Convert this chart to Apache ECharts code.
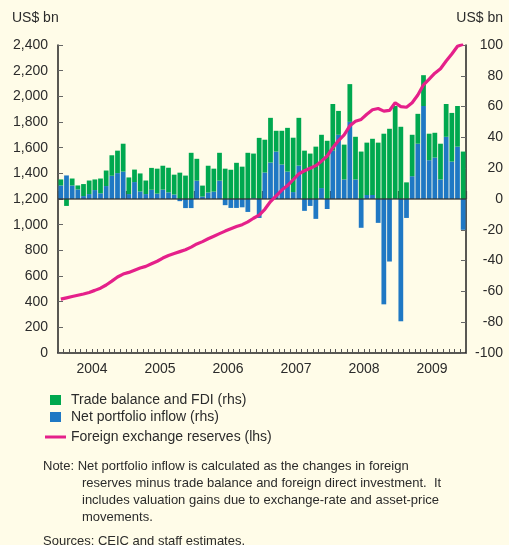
<!DOCTYPE html>
<html>
<head>
<meta charset="utf-8">
<script src="https://cdn.jsdelivr.net/npm/echarts@6/dist/echarts.min.js"></script>
<style>
html,body{margin:0;padding:0;background:#FFFCE8;}
#chart{width:509px;height:545px;}
</style>
</head>
<body>
<div id="chart"></div>
<script>
// ---- data ----
var years = ['2004', '2005', '2006', '2007', '2008', '2009'];
var leftTicks = [0, 200, 400, 600, 800, 1000, 1200, 1400, 1600, 1800, 2000, 2200, 2400];
var rightTicks = [-100, -80, -60, -40, -20, 0, 20, 40, 60, 80, 100];

// Net portfolio inflow (rhs, US$ bn), monthly Jan 2004 - Dec 2009
var portfolio = [
  8.8, 15.3, 8.8, 6.2, 1.9, 3.2, 5.8, 3.7, 8.4, 15.1, 16.8, 17.8,
  3.2, 11.0, 4.9, 3.2, 6.0, 3.5, 6.1, 4.3, 2.9, -1.4, -5.9, -5.9,
  11.9, 1.6, 4.2, 4.8, 11.9, -4.0, -5.8, -5.8, -5.4, -8.4, 0.5, -12.3,
  17.2, 23.7, 30.8, 22.4, 17.8, 4.5, 21.7, -7.7, -4.5, -12.9, 7.1, -6.5,
  31.4, 41.7, 12.7, 50.1, 12.7, -18.7, 2.6, 2.6, -15.5, -68.4, -40.6, 0,
  -79.4, -12.3, 14.8, 35.9, 60.4, 25.2, 26.9, 12.7, 40.4, 24.3, 34.0, -20.0
];
// Trade balance and FDI (rhs, US$ bn)
var tradeFdi = [
  3.9, -4.5, 4.5, 2.6, 7.8, 8.8, 6.9, 9.6, 10.1, 13.3, 14.6, 18.1,
  10.8, 8.1, 11.7, 8.8, 14.2, 16.2, 15.5, 16.0, 12.9, 17.1, 15.2, 30.0,
  14.2, 7.1, 17.4, 14.9, 18.1, 19.7, 19.0, 23.5, 21.0, 30.0, 29.0, 39.7,
  21.3, 29.0, 13.5, 21.9, 28.4, 35.3, 31.0, 31.4, 29.5, 34.0, 34.6, 37.8,
  30.3, 15.5, 22.6, 24.5, 27.7, 30.8, 34.0, 36.5, 36.6, 42.4, 45.6, 60.4,
  46.9, 10.8, 26.9, 19.4, 20.0, 17.2, 16.1, 23.2, 21.3, 31.6, 26.4, 30.8
];
// Foreign exchange reserves (lhs, US$ bn)
var reserves = [
  420, 430, 440, 450, 460, 472, 488, 505, 530, 560, 592, 615,
  628, 645, 662, 675, 695, 715, 740, 760, 775, 790, 805, 825,
  850, 868, 890, 910, 930, 950, 968, 985, 1000, 1022, 1050, 1075,
  1120, 1180, 1225, 1270, 1305, 1350, 1395, 1420, 1440, 1460, 1495, 1535,
  1600, 1655, 1700, 1770, 1805, 1820, 1860, 1895, 1905, 1885, 1890, 1950,
  1920, 1915, 1950, 2010, 2090, 2135, 2180, 2215, 2275, 2330, 2390, 2405
];

var months = [];
years.forEach(function (y) {
  for (var m = 1; m <= 12; m++) months.push(y + '-' + (m < 10 ? '0' + m : m));
});

var FONT = '"Liberation Sans", Arial, Helvetica, sans-serif';
var TXT = '#2b2b2b';
var AXIS = '#222222';
var GREEN = '#00A84F';
var BLUE = '#1F78C4';
var PINK = '#E5208A';

function fmt(v) { return String(v).replace(/\B(?=(\d{3})+(?!\d))/g, ','); }

var chart = echarts.init(document.getElementById('chart'), null, { renderer: 'canvas' });

var noteLines = [
  { x: 43, y: 466, t: 'Note: Net portfolio inflow is calculated as the changes in foreign' },
  { x: 82, y: 483, t: 'reserves minus trade balance and foreign direct investment.  It' },
  { x: 82, y: 500, t: 'includes valuation gains due to exchange-rate and asset-price' },
  { x: 82, y: 517, t: 'movements.' },
  { x: 43, y: 541, t: 'Sources: CEIC and staff estimates.' }
];

var graphics = [
  { type: 'text', left: 12, top: 11, style: { text: 'US$ bn', font: '14px ' + FONT, fill: TXT } },
  { type: 'text', right: 6, top: 11, style: { text: 'US$ bn', font: '14px ' + FONT, fill: TXT } }
];
noteLines.forEach(function (n) {
  graphics.push({ type: 'text', x: n.x, y: n.y, style: { text: n.t, font: '13px ' + FONT, fill: TXT, textVerticalAlign: 'middle' } });
});

chart.setOption({
  backgroundColor: '#FFFCE8',
  animation: false,
  textStyle: { fontFamily: FONT },
  grid: { left: 58, right: 43, top: 45, bottom: 192, containLabel: false },
  legend: [
    {
      orient: 'vertical', left: 50, top: 393, padding: 0, itemWidth: 11, itemHeight: 10, itemGap: 3,
      icon: 'rect',
      textStyle: { fontSize: 14, color: TXT, fontFamily: FONT, padding: [0, 0, 0, 5] },
      data: ['Trade balance and FDI (rhs)', 'Net portfolio inflow (rhs)']
    },
    {
      orient: 'vertical', left: 45, top: 430, padding: 0, itemWidth: 21, itemHeight: 3,
      icon: 'rect',
      textStyle: { fontSize: 14, color: TXT, fontFamily: FONT },
      data: ['Foreign exchange reserves (lhs)']
    }
  ],
  xAxis: [
    {
      type: 'category', data: months, boundaryGap: true, position: 'bottom',
      axisLine: { show: true, lineStyle: { color: AXIS, width: 1.5 } },
      axisTick: { show: true, inside: true, length: 4, interval: 0, lineStyle: { color: '#555' } },
      axisLabel: { show: false },
      splitLine: { show: false }
    },
    {
      type: 'category', data: years, boundaryGap: true, position: 'bottom',
      axisLine: { show: false },
      axisTick: { show: true, inside: true, length: 8, lineStyle: { color: '#444', width: 1.2 } },
      axisLabel: { show: true, fontSize: 14, color: TXT, margin: 9, fontFamily: FONT },
      splitLine: { show: false }
    }
  ],
  yAxis: [
    {
      type: 'value', min: leftTicks[0], max: leftTicks[leftTicks.length - 1], interval: 200, position: 'left',
      axisLine: { show: true, lineStyle: { color: AXIS, width: 1.5 } },
      axisTick: { show: true, inside: true, length: 5, lineStyle: { color: '#666' } },
      axisLabel: { fontSize: 14, color: TXT, margin: 10, formatter: fmt, fontFamily: FONT },
      splitLine: { show: false }
    },
    {
      type: 'value', min: rightTicks[0], max: rightTicks[rightTicks.length - 1], interval: 20, position: 'right',
      axisLine: { show: true, lineStyle: { color: AXIS, width: 1.5 } },
      axisTick: { show: true, inside: true, length: 5, lineStyle: { color: '#666' } },
      axisLabel: { fontSize: 14, color: TXT, margin: 37, align: 'right', fontFamily: FONT },
      splitLine: { show: false }
    }
  ],
  series: [
    {
      name: 'Net portfolio inflow (rhs)', type: 'bar', stack: 'flows', xAxisIndex: 0, yAxisIndex: 1,
      data: portfolio, barCategoryGap: '16%', itemStyle: { color: BLUE }
    },
    {
      name: 'Trade balance and FDI (rhs)', type: 'bar', stack: 'flows', xAxisIndex: 0, yAxisIndex: 1,
      data: tradeFdi, barCategoryGap: '16%', itemStyle: { color: GREEN },
      markLine: {
        silent: true, symbol: 'none', label: { show: false },
        lineStyle: { color: '#333', width: 1.6, type: 'solid', opacity: 0.85 },
        data: [{ yAxis: 0 }]
      }
    },
    {
      name: 'Foreign exchange reserves (lhs)', type: 'line', xAxisIndex: 0, yAxisIndex: 0,
      data: reserves, showSymbol: false, symbol: 'none', z: 5,
      lineStyle: { color: PINK, width: 3.2 }, itemStyle: { color: PINK }
    }
  ],
  graphic: graphics
});
</script>
</body>
</html>
